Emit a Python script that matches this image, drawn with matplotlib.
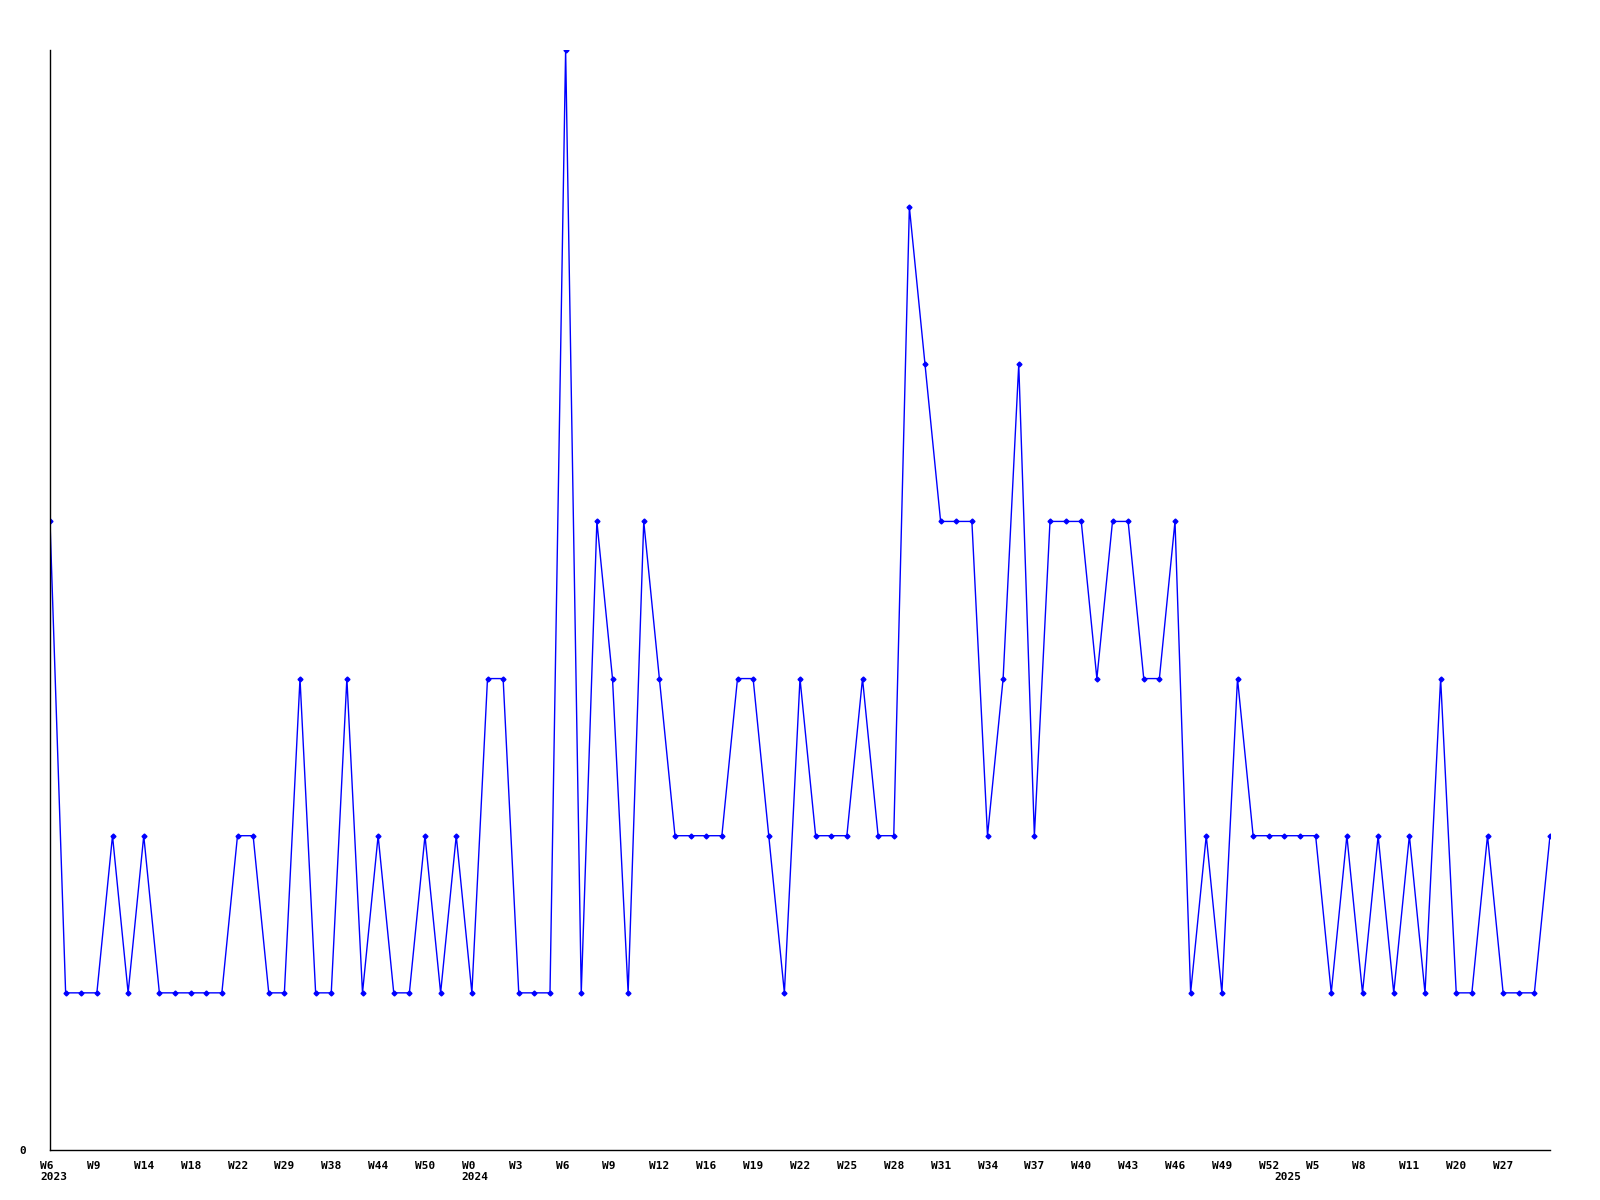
import matplotlib
matplotlib.use('Agg')
import matplotlib.pyplot as plt
from matplotlib.transforms import ScaledTranslation

# weekly counts, one point per week that had data
values = [4, 1, 1, 1, 2, 1, 2, 1, 1, 1, 1, 1, 2, 2, 1, 1, 3, 1, 1, 3,
          1, 2, 1, 1, 2, 1, 2, 1, 3, 3, 1, 1, 1, 7, 1, 4, 3, 1, 4, 3,
          2, 2, 2, 2, 3, 3, 2, 1, 3, 2, 2, 2, 3, 2, 2, 6, 5, 4, 4, 4,
          2, 3, 5, 2, 4, 4, 4, 3, 4, 4, 3, 3, 4, 1, 2, 1, 3, 2, 2, 2,
          2, 2, 1, 2, 1, 2, 1, 2, 1, 3, 1, 1, 2, 1, 1, 1, 2]

# label every third point
week_labels = ['W6', 'W9', 'W14', 'W18', 'W22', 'W29', 'W38', 'W44', 'W50',
               'W0', 'W3', 'W6', 'W9', 'W12', 'W16', 'W19', 'W22', 'W25',
               'W28', 'W31', 'W34', 'W37', 'W40', 'W43', 'W46', 'W49',
               'W52', 'W5', 'W8', 'W11', 'W20', 'W27']

# index of the first point of each year
year_pos = [0, 27, 79]
year_names = ['2023', '2024', '2025']

font = dict(family='DejaVu Sans Mono', weight='bold', size=8)

fig = plt.figure(figsize=(16, 12), dpi=100)
ax = fig.add_axes([50/1600, 50/1200, 1500/1600, 1100/1200])

x = list(range(len(values)))
ax.plot(x, values, color='#0000ff', lw=1, marker='D', ms=2.5,
        mec='#0000ff', mfc='#0000ff')

ax.set_xlim(0, len(values) - 1)
ax.set_ylim(0, 7)

for s in ['top', 'right']:
    ax.spines[s].set_visible(False)
for s in ['left', 'bottom']:
    ax.spines[s].set_color('black')
    ax.spines[s].set_linewidth(1)

tick_pos = [i * 3 for i in range(len(week_labels))]
ax.set_xticks(tick_pos)
ax.set_xticklabels(week_labels, ha='left', **font)
ax.tick_params(axis='x', length=0, pad=8)
shift = ScaledTranslation(-10/100, 0, fig.dpi_scale_trans)
for lab in ax.get_xticklabels():
    lab.set_transform(lab.get_transform() + shift)

ax.set_yticks([0])
ax.set_yticklabels(['0'], **font)
ax.tick_params(axis='y', length=0, pad=17)

for p, name in zip(year_pos, year_names):
    ax.annotate(name, xy=(p, 0), xycoords=('data', 'axes fraction'),
                xytext=(-10, -27), textcoords='offset pixels',
                ha='left', va='center', **font)

fig.savefig('out.png', dpi=100, facecolor='white')
